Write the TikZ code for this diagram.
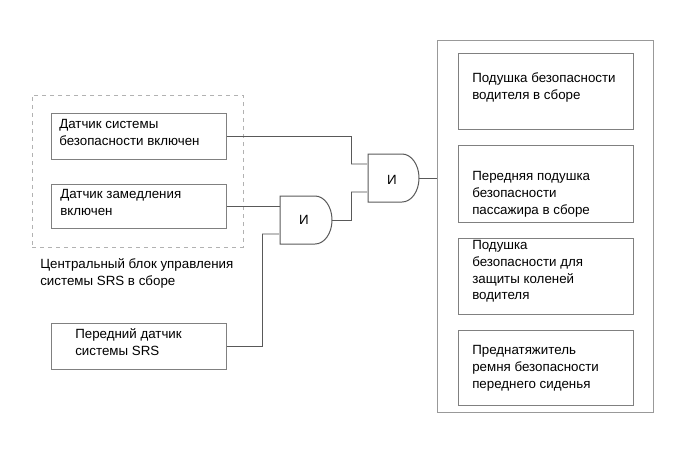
\documentclass[tikz,border=0pt]{standalone}
\usepackage{fontspec}
\setmainfont{Liberation Sans}
\usetikzlibrary{fit}

\tikzset{
  box/.style={draw=black!50, line width=0.75pt, inner sep=0pt},
  frame/.style={draw=black!30, dashed, line width=0.75pt, inner sep=0pt},
  txt/.style={anchor=north west, inner sep=0.75pt, align=left, font=\fontsize{10}{12.5}\selectfont},
  wire/.style={draw=black!65, line width=0.75pt},
  pin/.style={draw=black!25, line width=1.5pt},
  gate/.style={draw=black!65, line width=0.75pt},
}

\begin{document}
\begin{tikzpicture}[x=0.75pt,y=0.75pt,yscale=-1,xscale=1]
\path [use as bounding box] (0,0) rectangle (690,465);

%Shape: dashed frame of the control unit
\node (ecu) [frame, fit={(32,95) (243,247)}] {};
%Shape: sensor boxes
\node (sb1) [box, fit={(51,113) (226,159)}] {};
\node (sb2) [box, fit={(51,184) (226,228)}] {};
\node (sb3) [box, fit={(51,323) (226,369)}] {};
%Shape: outer frame and airbag boxes
\node (bag) [box, draw=black!40, fit={(437,40) (653,412)}] {};
\node (ab1) [box, fit={(458,53) (633,129)}] {};
\node (ab2) [box, fit={(458,145) (633,222)}] {};
\node (ab3) [box, fit={(458,238) (633,314)}] {};
\node (ab4) [box, fit={(458,330) (633,405)}] {};

%Shape: AND gate 1
\draw [gate] (280,196) -- (315,196) .. controls (324.4,196) and (332,206.7) .. (332,220) .. controls (332,233.3) and (324.4,244) .. (315,244) -- (280,244) -- cycle ;
\coordinate (g1a) at (280,206);
\coordinate (g1b) at (280,234);
\coordinate (g1o) at (332,220);
%Shape: AND gate 2
\draw [gate] (368,154) -- (402,154) .. controls (411.4,154) and (419,164.7) .. (419,178) .. controls (419,191.3) and (411.4,202) .. (402,202) -- (368,202) -- cycle ;
\coordinate (g2a) at (368,164);
\coordinate (g2b) at (368,192);
\coordinate (g2o) at (419,178);

% Text Node
\node (t1) [txt] at (58,118.5) {Датчик системы\\безопасности включен};
% Text Node
\node (t2) [txt] at (59,188.5) {Датчик замедления\\включен};
% Text Node
\node (tecu) [txt] at (39,257.5) {Центральный блок управления\\системы SRS в сборе};
% Text Node
\node (t3) [txt] at (74,327.5) {Передний датчик\\системы SRS};
% Text Node
\node (ta1) [txt] at (471,71.5) {Подушка безопасности\\водителя в сборе};
% Text Node
\node (ta2) [txt] at (471,170.5) {Передняя подушка\\безопасности\\пассажира в сборе};
% Text Node
\node (ta3) [txt] at (471,239.5) {Подушка\\безопасности для\\защиты коленей\\водителя};
% Text Node
\node (ta4) [txt] at (471,344.5) {Преднатяжитель\\ремня безопасности\\переднего сиденья};
% Text Node
\node (l1) [inner sep=0.75pt, font=\fontsize{10}{12.5}\selectfont] at (304,220) {И};
% Text Node
\node (l2) [inner sep=0.75pt, font=\fontsize{10}{12.5}\selectfont] at (392,180) {И};

%Connectors: input pins
\draw [pin] (g2a) -- ++(-17,0) coordinate (g2ap);
\draw [pin] (g2b) -- ++(-17,0) coordinate (g2bp);
\draw [pin] (g1b) -- ++(-18,0) coordinate (g1bp);
%Connectors: wires
\draw [wire] (sb1.east) -| (g2ap);
\draw [wire] (sb2.east) -- (g1a);
\draw [wire] (sb3.east) -| (g1bp);
\draw [wire] (g1o) -| (g2bp);
\draw [wire] (g2o) -- (bag.west |- g2o);

\end{tikzpicture}
\end{document}
